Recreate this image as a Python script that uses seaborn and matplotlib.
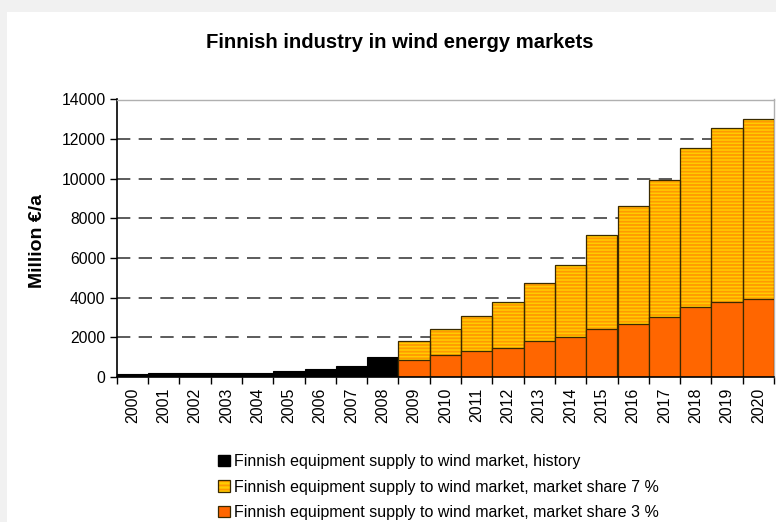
import numpy as np
import pandas as pd
import matplotlib
matplotlib.use("Agg")
import matplotlib.pyplot as plt
import seaborn as sns
from matplotlib.patches import Patch, Rectangle
from matplotlib.legend_handler import HandlerTuple

# Datele (milioane EUR pe an)
ani = [str(a) for a in range(2000, 2021)]
ani_istorie = ani[:9]
istorie = [120, 170, 170, 170, 170, 270, 370, 520, 980]
ani_prognoza = ani[9:]
cota_7 = [1790, 2430, 3070, 3760, 4720, 5650, 7170, 8600, 9950, 11560, 12570, 12990]
cota_3 = [845, 1080, 1280, 1470, 1790, 1990, 2430, 2650, 2990, 3530, 3760, 3900]

etichete = [
    "Finnish equipment supply to wind market, history",
    "Finnish equipment supply to wind market, market share 7 %",
    "Finnish equipment supply to wind market, market share 3 %",
]

df_ist = pd.DataFrame({"An": ani_istorie, "Valoare": istorie})
df_prog = pd.DataFrame({"An": ani_prognoza, "Cota7": cota_7, "Cota3": cota_3})

sns.set_style("white")
plt.rcParams["font.family"] = ["Liberation Sans", "DejaVu Sans"]
plt.rcParams["hatch.linewidth"] = 1.3
plt.rcParams["text.color"] = "black"
plt.rcParams["xtick.color"] = "black"
plt.rcParams["ytick.color"] = "black"

fig = plt.figure(figsize=(7.76, 5.22), dpi=100, facecolor="#f1f1f1")
# panou alb ca in imaginea originala
fig.patches.append(Rectangle((7 / 776, 0), 1, (522 - 12) / 522, transform=fig.transFigure,
                             facecolor="white", edgecolor="none", zorder=-5))
ax = fig.add_axes([116.7 / 776, 1 - 376.7 / 522, (774 - 116.7) / 776, (376.7 - 99.5) / 522])
ax.set_facecolor("white")

galben = "#FFCC00"
dungi = "#FF9A00"
portocaliu = "#FF6600"
contur = "#3a2a00"

# Istorie
sns.barplot(data=df_ist, x="An", y="Valoare", order=ani, color="black", width=1.0,
            edgecolor="black", linewidth=0.8, saturation=1, ax=ax, zorder=3)
# Cota de piata 7 % (hasurat)
sns.barplot(data=df_prog, x="An", y="Cota7", order=ani, color=galben, width=1.0,
            edgecolor=dungi, linewidth=0, hatch="-----", saturation=1, ax=ax, zorder=3)
sns.barplot(data=df_prog, x="An", y="Cota7", order=ani, fill=False, width=1.0,
            edgecolor=contur, linewidth=0.9, ax=ax, zorder=4)
# Cota de piata 3 %
sns.barplot(data=df_prog, x="An", y="Cota3", order=ani, color=portocaliu, width=1.0,
            edgecolor=contur, linewidth=0.9, saturation=1, ax=ax, zorder=5)

ax.set_xlim(-0.5, len(ani) - 0.5)
ax.set_ylim(0, 14000)
ax.set_yticks(np.arange(0, 14001, 2000))
ax.set_yticklabels([str(v) for v in range(0, 14001, 2000)], fontsize=11.3)
ax.tick_params(axis="y", direction="out", length=5, width=1, color="black", pad=3, left=True)

# ticks intre categorii, etichete pe centru
ax.set_xticks(np.arange(len(ani)))
ax.set_xticklabels(ani, rotation=90, fontsize=11.5)
ax.tick_params(axis="x", which="major", length=0, pad=8)
ax.set_xticks(np.arange(-0.5, len(ani)), minor=True)
ax.tick_params(axis="x", which="minor", direction="out", length=5, width=1, color="black", bottom=True)

for y in range(2000, 14000, 2000):
    ax.axhline(y, color="#404040", linewidth=1.2, linestyle=(0, (8, 5)), zorder=1)

for s in ["top", "right"]:
    ax.spines[s].set_color("#b0b0b0")
    ax.spines[s].set_linewidth(1)
for s in ["left", "bottom"]:
    ax.spines[s].set_color("black")
    ax.spines[s].set_linewidth(1.2)
ax.spines["bottom"].set_zorder(6)

ax.set_xlabel("")
ax.set_ylabel("")
fig.text(38 / 776, 1 - 241 / 522, "Million €/a", rotation=90, fontsize=14, fontweight="bold",
         ha="center", va="center")
fig.text(400 / 776, 1 - 42 / 522, "Finnish industry in wind energy markets", fontsize=14.6,
         fontweight="bold", ha="center", va="center")

handles = [
    Patch(facecolor="black", edgecolor="black"),
    (Patch(facecolor=galben, edgecolor=dungi, hatch="----", linewidth=0),
     Patch(facecolor="none", edgecolor=contur, linewidth=0.9)),
    Patch(facecolor=portocaliu, edgecolor=contur, linewidth=0.9),
]
leg = fig.legend(handles, etichete, loc="upper left", bbox_to_anchor=(212 / 776, 1 - 448 / 522),
                 frameon=False, fontsize=11.5, handlelength=0.7, handleheight=0.7,
                 handletextpad=0.3, labelspacing=0.64, borderaxespad=0,
                 handler_map={tuple: HandlerTuple(ndivide=1, pad=0)})

fig.savefig("out.png", dpi=100, facecolor=fig.get_facecolor())
